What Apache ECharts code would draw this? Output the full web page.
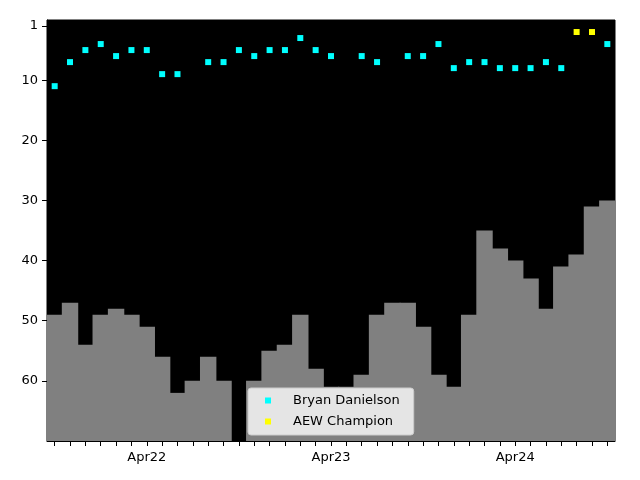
<!DOCTYPE html>
<html>
<head>
<meta charset="utf-8">
<script src="https://cdn.jsdelivr.net/npm/echarts@6/dist/echarts.min.js"></script>
<style>
html,body{margin:0;padding:0;background:#fff;}
#chart{width:640px;height:480px;}
</style>
</head>
<body>
<div id="chart"></div>
<script>
const months = ['Oct21','Nov21','Dec21','Jan22','Feb22','Mar22','Apr22','May22','Jun22','Jul22','Aug22','Sep22',
  'Oct22','Nov22','Dec22','Jan23','Feb23','Mar23','Apr23','May23','Jun23','Jul23','Aug23','Sep23',
  'Oct23','Nov23','Dec23','Jan24','Feb24','Mar24','Apr24','May24','Jun24','Jul24','Aug24','Sep24','Oct24'];
const tickLabels = ['Apr22','Apr23','Apr24'];
const yTicks = [1,10,20,30,40,50,60];
const yMax = 70;
// monthly rank (cyan markers)
const rank = [11,7,5,4,6,5,5,9,9,null,7,7,5,6,5,5,3,5,6,null,6,7,null,6,6,4,8,7,7,8,8,8,7,8,null,null,4];
// champion months (yellow markers)
const champ = [null,null,null,null,null,null,null,null,null,null,null,null,null,null,null,null,null,null,null,null,null,null,null,null,null,null,null,null,null,null,null,null,null,null,2,2,null];
// grey bars (secondary ranking)
const bars = [49,47,54,49,48,49,51,56,62,60,56,60,null,60,55,54,49,58,61,61,59,49,47,47,51,59,61,49,35,38,40,43,48,41,39,31,30];

const font = 'DejaVu Sans';
const chart = echarts.init(document.getElementById('chart'));
const dash = v => (v == null ? '-' : v);
chart.setOption({
  animation: false,
  backgroundColor: '#fff',
  textStyle: {fontFamily: font},
  grid: {left: 47, right: 25, top: 20, bottom: 39, show: true, backgroundColor: '#000', borderColor: '#000', borderWidth: 1, containLabel: false},
  legend: {
    orient: 'vertical',
    left: 248, top: 388,
    data: ['Bryan Danielson', 'AEW Champion'],
    icon: 'rect', itemWidth: 6, itemHeight: 6, itemGap: 8,
    padding: [6, 14, 7, 17],
    backgroundColor: '#e5e5e5', borderColor: '#cccccc', borderWidth: 1, borderRadius: 3,
    textStyle: {fontFamily: font, fontSize: 13, color: '#000', padding: [0, 0, 0, 17]}
  },
  xAxis: {
    type: 'category',
    data: months,
    boundaryGap: true,
    axisLine: {onZero: false, lineStyle: {color: '#000', width: 1}},
    axisTick: {show: true, interval: 0, alignWithLabel: true, length: 5, lineStyle: {color: '#000'}},
    axisLabel: {interval: 0, margin: 10, fontFamily: font, fontSize: 13, color: '#000',
      formatter: v => (tickLabels.indexOf(v) >= 0 ? v : ' ')},
    splitLine: {show: false}
  },
  yAxis: {
    type: 'value',
    inverse: true,
    min: 0, max: yMax,
    axisLine: {show: true, onZero: false, lineStyle: {color: '#000', width: 1}},
    axisTick: {show: true, length: 5, lineStyle: {color: '#000'}, customValues: yTicks},
    axisLabel: {margin: 9, fontFamily: font, fontSize: 13, color: '#000', customValues: yTicks},
    splitLine: {show: false}
  },
  series: [
    {name: 'base', type: 'bar', stack: 'b', silent: true, barWidth: 16.4,
      itemStyle: {color: 'rgba(0,0,0,0)', borderWidth: 0}, data: bars.map(dash)},
    {name: 'bars', type: 'bar', stack: 'b', silent: true, barWidth: 16.4,
      itemStyle: {color: '#808080', borderWidth: 0}, data: bars.map(v => (v == null ? '-' : yMax - v))},
    {name: 'Bryan Danielson', type: 'scatter', symbol: 'rect', symbolSize: 6, z: 5,
      itemStyle: {color: '#00ffff', opacity: 1}, data: rank.map(dash)},
    {name: 'AEW Champion', type: 'scatter', symbol: 'rect', symbolSize: 6, z: 5,
      itemStyle: {color: '#ffff00', opacity: 1}, data: champ.map(dash)}
  ]
});
</script>
</body>
</html>
